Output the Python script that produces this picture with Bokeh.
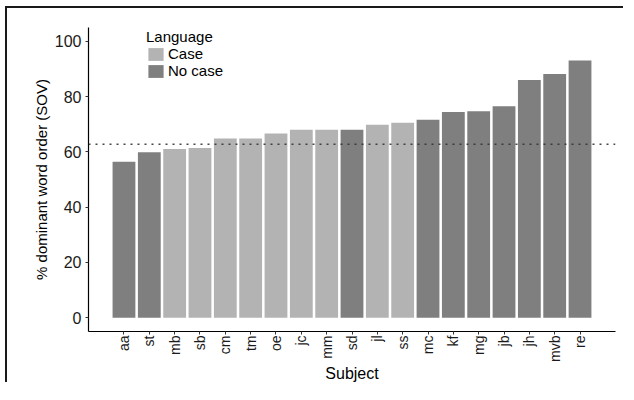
from bokeh.plotting import figure
from bokeh.models import ColumnDataSource, FactorRange, Range1d, FixedTicker, Span, Legend, LegendItem
from bokeh.embed import file_html
from bokeh.resources import INLINE
import math

subjects = ["aa", "st", "mb", "sb", "cm", "tm", "oe", "jc", "mm", "sd",
            "jl", "ss", "mc", "kf", "mg", "jb", "jh", "mvb", "re"]
sov_pct = [56.4, 59.9, 61.0, 61.4, 64.8, 64.8, 66.6, 68.0, 68.0, 68.0,
           69.8, 70.5, 71.6, 74.4, 74.7, 76.5, 86.0, 88.2, 93.1]
language = ["No case", "No case", "Case", "Case", "Case", "Case", "Case", "Case", "Case", "No case",
            "Case", "Case", "No case", "No case", "No case", "No case", "No case", "No case", "No case"]
groups = ["Case", "No case"]
group_colors = {"Case": "#b3b3b3", "No case": "#7f7f7f"}
reference_line = 62.8
y_ticks = [0, 20, 40, 60, 80, 100]

FONT = "Liberation Sans"

p = figure(x_range=FactorRange(*subjects, range_padding=0.9, range_padding_units="absolute"),
           y_range=Range1d(-5, 105),
           width=618, height=376, output_backend="svg", toolbar_location=None,
           min_border_left=81, min_border_right=10, min_border_top=19, min_border_bottom=47)
p.styles = {"border-left": "2px solid #1a1a1a", "border-top": "2px solid #1a1a1a",
            "margin-left": "5px", "margin-top": "6px"}

renderers = {}
for g in groups:
    idx = [i for i, l in enumerate(language) if l == g]
    src = ColumnDataSource(dict(subject=[subjects[i] for i in idx],
                                value=[sov_pct[i] for i in idx]))
    renderers[g] = p.vbar(x="subject", top="value", bottom=0, width=0.9, source=src,
                          fill_color=group_colors[g], line_color=None)

p.add_layout(Span(location=reference_line, dimension="width", line_color="#333333",
                  line_dash="2 5", line_width=1.5, line_alpha=0.9))

legend = Legend(items=[LegendItem(label=g, renderers=[renderers[g]]) for g in groups],
                location=(58, 252), title="Language",
                title_text_font=FONT, title_text_font_size="15px", title_text_font_style="normal",
                title_text_color="#000000", title_standoff=0,
                label_text_font=FONT, label_text_font_size="15px", label_text_color="#000000",
                glyph_width=19, glyph_height=16, label_height=15, label_standoff=3,
                spacing=0, padding=0, margin=0, border_line_color=None,
                background_fill_alpha=0)
p.add_layout(legend)

p.xgrid.grid_line_color = None
p.ygrid.grid_line_color = None
p.outline_line_color = None

for ax in (p.xaxis[0], p.yaxis[0]):
    ax.axis_line_color = "#000000"
    ax.axis_line_width = 1.2
    ax.major_tick_line_color = "#333333"
    ax.major_tick_in = 0
    ax.major_tick_out = 3
    ax.minor_tick_line_color = None
    ax.major_label_text_font = FONT
    ax.major_label_text_color = "#1a1a1a"
    ax.axis_label_text_font = FONT
    ax.axis_label_text_font_style = "normal"
    ax.axis_label_text_color = "#000000"

p.yaxis.ticker = FixedTicker(ticks=y_ticks)
p.yaxis.axis_label = "% dominant word order (SOV)"
p.yaxis.axis_label_text_font_size = "15px"
p.yaxis.major_label_text_font_size = "16px"
p.yaxis.major_label_standoff = 4
p.yaxis.axis_label_standoff = 2

p.xaxis.axis_label = "Subject"
p.xaxis.axis_label_text_font_size = "16px"
p.xaxis.major_label_text_font_size = "14px"
p.xaxis.major_label_orientation = math.pi / 2
p.xaxis.major_label_standoff = 1
p.xaxis.axis_label_standoff = 0

open("out.html", "w").write(file_html(p, INLINE))
